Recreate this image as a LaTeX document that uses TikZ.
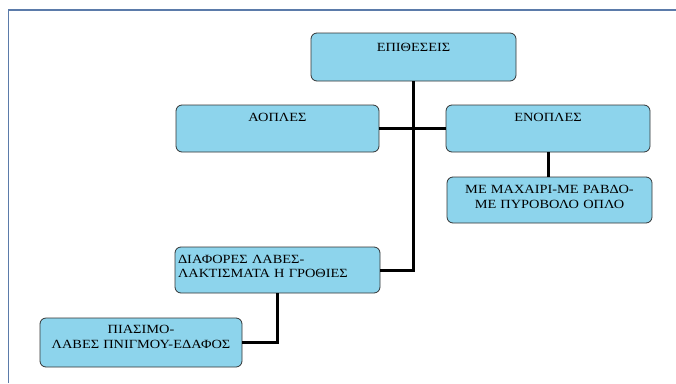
\documentclass[tikz,border=0pt]{standalone}
\usepackage{fontspec}
\setmainfont{Liberation Serif}[FakeStretch=1.15]
\usepackage{xcolor}
\usepackage{tikz}
\usetikzlibrary{positioning}
\definecolor{boxblue}{HTML}{8DD4EC}
\definecolor{framegray}{HTML}{5B7BAA}
\tikzset{
    box/.style={rectangle, rounded corners=6pt, draw=black!80, fill=boxblue, line width=0.8pt, inner xsep=3pt, inner ysep=0pt, outer sep=0pt, align=center, text height=16pt, text depth=31pt, font=\fontsize{12.5}{15.5}\selectfont},
    link/.style={line width=3pt, black}
}
\begin{document}
\begin{tikzpicture}[x=1pt, y=-1pt]
    \useasboundingbox (0,0) rectangle (676,383);
    % page frame
    \draw[framegray, line width=1.2pt] (8.5,383) |- (676,10);

    \node (epitheseis) [box, anchor=north west, text width=199pt, text height=18pt, text depth=30pt] at (311,33) {ΕΠΙΘΕΣΕΙΣ};
    \node (aoples) [box, anchor=north west, text width=197pt] at (176,105) {ΑΟΠΛΕΣ};
    \node (enoples) [box, anchor=north west, text width=198pt] at (446,105) {ΕΝΟΠΛΕΣ};
    \node (maxairi) [box, anchor=north west, text width=199pt, text depth=30pt] at (447,177) {ΜΕ ΜΑΧΑΙΡΙ-ΜΕ ΡΑΒΔΟ-\\ΜΕ ΠΥΡΟΒΟΛΟ ΟΠΛΟ};
    \node (diafores) [box, anchor=north west, text width=199pt, text depth=30pt, align=left, font=\fontsize{12.5}{14}\selectfont] at (175,247) {ΔΙΑΦΟΡΕΣ ΛΑΒΕΣ-\\ΛΑΚΤΙΣΜΑΤΑ Η ΓΡΟΘΙΕΣ};
    \node (piasimo) [box, anchor=north west, text width=196pt, text height=15pt, text depth=34pt] at (40,318) {ΠΙΑΣΙΜΟ-\\ΛΑΒΕΣ ΠΝΙΓΜΟΥ-ΕΔΑΦΟΣ};

    \draw[link] (epitheseis.south) |- (diafores.east);
    \draw[link] (aoples.east) -- (enoples.west);
    \draw[link] (enoples.south) -- (enoples.south |- maxairi.north);
    \draw[link] (diafores.south) |- (piasimo.east);
\end{tikzpicture}
\end{document}
